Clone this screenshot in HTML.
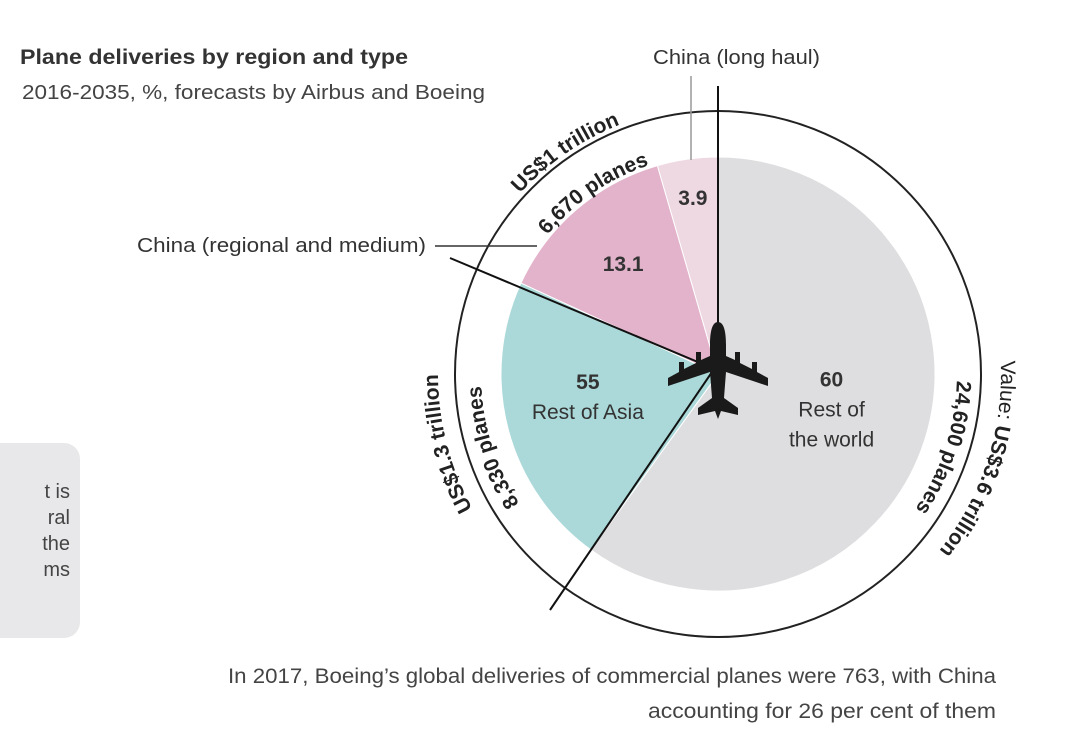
<!DOCTYPE html>
<html><head><meta charset="utf-8"><style>
html,body{margin:0;padding:0;background:#fff;}
svg{display:block;font-family:"Liberation Sans",sans-serif;}
</style></head><body>
<svg id="chart" width="1074" height="754" viewBox="0 0 1074 754" xmlns="http://www.w3.org/2000/svg">
<defs>
<path id="arcTopOut" d="M 450 374 A 268 268 0 0 1 986 374"/>
<path id="arcTopIn" d="M 498 374 A 220 220 0 0 1 938 374"/>
<path id="arcLeftOut" d="M 718 654 A 280 280 0 0 1 718 94"/>
<path id="arcLeftIn" d="M 718 611 A 237 237 0 0 1 718 137"/>
<path id="arcRightOut" d="M 718 91 A 283 283 0 0 1 718 657"/>
<path id="arcRightIn" d="M 718 135 A 239 239 0 0 1 718 613"/>
</defs>
<rect x="-20" y="443" width="100" height="195" rx="16" fill="#e8e8ea"/>
<g font-size="20" fill="#444" text-anchor="end">
<text x="70" y="498">t is</text><text x="70" y="524">ral</text><text x="70" y="550">the</text><text x="70" y="576">ms</text>
</g>
<text x="20" y="64" font-size="21" font-weight="bold" fill="#333" textLength="388" lengthAdjust="spacingAndGlyphs">Plane deliveries by region and type</text>
<text x="22" y="99" font-size="20" fill="#444" textLength="463" lengthAdjust="spacingAndGlyphs">2016-2035, %, forecasts by Airbus and Boeing</text>
<circle cx="718" cy="374" r="263" fill="none" stroke="#222" stroke-width="2"/>
<g id="slices"></g>
<g id="slice-labels" font-size="21" fill="#333" text-anchor="middle"></g>
<line x1="691" y1="76" x2="691" y2="160" stroke="#999" stroke-width="1.5"/>
<line x1="718" y1="86" x2="718" y2="360" stroke="#111" stroke-width="2"/>
<line x1="435" y1="246" x2="537" y2="246" stroke="#333" stroke-width="1.5"/>
<line x1="450" y1="258" x2="705" y2="365" stroke="#111" stroke-width="2"/>
<line x1="550" y1="610" x2="712" y2="372" stroke="#111" stroke-width="2"/>
<g fill="#1a1a1a">
<path d="M718 322 C724 322 726 332 726 345 L726 356 L735 360 L735 352 L740 352 L740 363 L752 369 L752 362 L757 362 L757 372 L768 378 L768 386 L726 372 L724 398 L738 408 L738 415 L721 411 L718 419 L715 411 L698 415 L698 408 L712 398 L710 372 L668 386 L668 378 L679 372 L679 362 L684 362 L684 369 L696 363 L696 352 L701 352 L701 360 L710 356 L710 345 C710 332 712 322 718 322 Z"/>
</g>
<text x="653" y="64" font-size="20" fill="#333" textLength="167" lengthAdjust="spacingAndGlyphs">China (long haul)</text>
<text x="137" y="252" font-size="20" fill="#333" textLength="289" lengthAdjust="spacingAndGlyphs">China (regional and medium)</text>
<g font-size="21" fill="#222" text-anchor="middle">
<text font-weight="bold"><textPath href="#arcTopOut" startOffset="30.8%">US$1 trillion</textPath></text>
<text font-weight="bold"><textPath href="#arcTopIn" startOffset="30.8%">6,670 planes</textPath></text>
<text font-weight="bold"><textPath href="#arcLeftOut" startOffset="42%">US$1.3 trillion</textPath></text>
<text font-weight="bold"><textPath href="#arcLeftIn" startOffset="40%">8,330 planes</textPath></text>
<text><textPath href="#arcRightOut" startOffset="60%">Value: <tspan font-weight="bold">US$3.6 trillion</tspan></textPath></text>
<text font-weight="bold"><textPath href="#arcRightIn" startOffset="60%">24,600 planes</textPath></text>
</g>
<g font-size="21" fill="#444">
<text x="228" y="683" textLength="768" lengthAdjust="spacingAndGlyphs">In 2017, Boeing’s global deliveries of commercial planes were 763, with China</text>
<text x="648" y="718" textLength="348" lengthAdjust="spacingAndGlyphs">accounting for 26 per cent of them</text>
</g>
</svg>
<script>
const categories = ["Rest of the world", "Rest of Asia", "China (regional and medium)", "China (long haul)"];
const shares = [59.9, 21.9, 13.6, 4.5];
const printedValues = ["60", "55", "13.1", "3.9"];
const colors = ["#dedee0", "#abd8d8", "#e2b3ca", "#eed8e2"];
const cx = 718, cy = 374, R = 217;
const ns = "http://www.w3.org/2000/svg";
const total = shares.reduce((a, b) => a + b, 0);
function angleOf(v) { return v / total * 2 * Math.PI; }
function pt(a, r) { return [cx + r * Math.sin(a), cy - r * Math.cos(a)]; }
const g = document.getElementById('slices');
const lg = document.getElementById('slice-labels');
let acc = 0;
const labelRadius = [0.55, 0.62, 0.67, 0.82];
const valueDy = [-24, -19, 7, 7];
const subDy = [6, 11, 0, 0];
const sub = [["Rest of", "the world"], ["Rest of Asia"], [], []];
shares.forEach((v, i) => {
  const a0 = angleOf(acc), a1 = angleOf(acc + v);
  acc += v;
  const p0 = pt(a0, R), p1 = pt(a1, R);
  const large = (a1 - a0) > Math.PI ? 1 : 0;
  const path = document.createElementNS(ns, 'path');
  path.setAttribute('d', `M${cx} ${cy} L${p0[0]} ${p0[1]} A${R} ${R} 0 ${large} 1 ${p1[0]} ${p1[1]} Z`);
  path.setAttribute('fill', colors[i]);
  path.setAttribute('stroke', '#fff');
  path.setAttribute('stroke-width', '1');
  
  
  g.appendChild(path);
  const mid = (a0 + a1) / 2;
  const lp = pt(mid, R * labelRadius[i]);
  const t = document.createElementNS(ns, 'text');
  t.setAttribute('x', lp[0]);
  t.setAttribute('y', lp[1] + valueDy[i]);
  t.setAttribute('font-weight', 'bold');
  t.textContent = printedValues[i];
  
  
  lg.appendChild(t);
  sub[i].forEach((s, k) => {
    const st = document.createElementNS(ns, 'text');
    st.setAttribute('x', lp[0]);
    st.setAttribute('y', lp[1] + subDy[i] + k * 30);
    st.setAttribute('font-size', '21');
    st.textContent = s;
    
    
    lg.appendChild(st);
  });
});
</script>
</body></html>
